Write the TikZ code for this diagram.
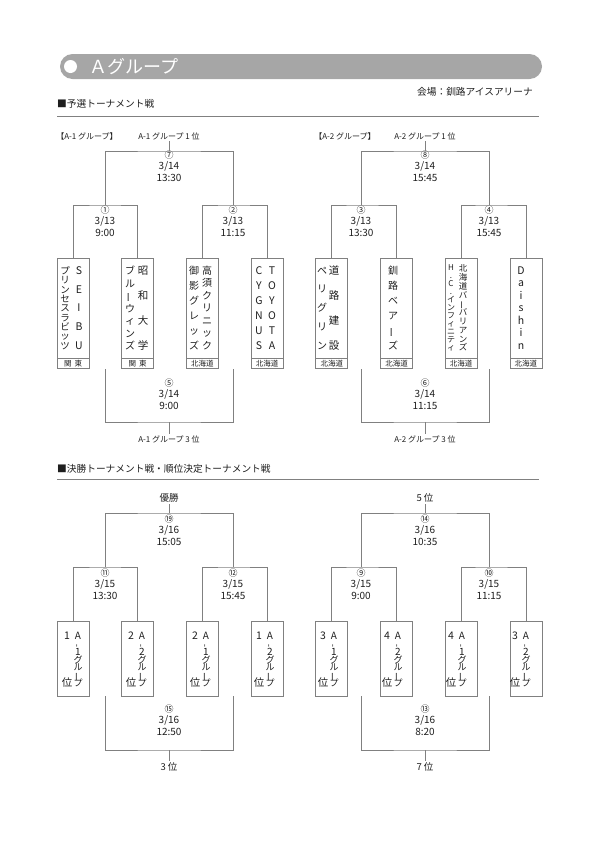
\documentclass[tikz,border=0pt]{standalone}
\usepackage{fontspec}
\setmainfont{Noto Sans CJK JP}
\usetikzlibrary{positioning}
\definecolor{bargray}{RGB}{166,166,166}
\definecolor{linegray}{RGB}{128,128,128}
\definecolor{inkgray}{RGB}{30,30,30}
\newcommand\tbar{\rotatebox[origin=c]{90}{ー}}
\newcommand\tdash{\rotatebox[origin=c]{90}{-}}
\newcommand\seedch[1]{{\fontsize{10}{10}\selectfont #1}}

\begin{document}
\setlength{\lineskiplimit}{-100pt}
\begin{tikzpicture}[x=1pt, y=-1pt, text=inkgray,
  wire/.style={draw=linegray, line width=0.7pt},
  headbar/.style={fill=bargray, rounded corners=12.5pt, minimum width=482pt, minimum height=25pt, inner sep=0pt},
  headdot/.style={circle, fill=white, minimum size=13pt, inner sep=0pt},
  headtitle/.style={text=white, anchor=west, inner sep=0pt, font=\fontsize{18}{18}\selectfont},
  sechead/.style={anchor=west, inner sep=0pt, font=\fontsize{9.7}{10}\selectfont},
  teambox/.style={draw=linegray, line width=0.7pt, minimum width=32pt, minimum height=100pt, inner sep=0pt},
  areabox/.style={draw=linegray, line width=0.7pt, minimum width=32pt, minimum height=10pt, inner sep=0pt, font=\fontsize{7.5}{7.5}\selectfont},
  seedbox/.style={draw=linegray, line width=0.7pt, minimum width=32pt, minimum height=75pt, inner sep=0pt},
  match/.style={align=center, inner sep=0pt, font=\fontsize{10}{11.5}\selectfont},
  tag/.style={inner sep=1.5pt, font=\fontsize{8}{9}\selectfont},
  ranktag/.style={inner sep=1.5pt, font=\fontsize{9.5}{10}\selectfont},
  tate/.style n args={2}{align=center, inner sep=0pt, font=\fontsize{#1}{#2}\selectfont}
]
\useasboundingbox (0,0) rectangle (595,841);

\node[headbar] (bar) at (301,66.5) {};
\node[headdot] (dot) at (70.5,66.5) {};
\node[headtitle] (title) at (89,66.5) {Ａグループ};
\node[sechead, anchor=east] (venue) at (533,92) {会場：釧路アイスアリーナ};
\node[sechead] (prelim) at (57,104) {■予選トーナメント戦};
\node[sechead] (final) at (57,469) {■決勝トーナメント戦・順位決定トーナメント戦};
\coordinate (r1a) at (57,116);
\coordinate (r1b) at (539,116);
\coordinate (r2a) at (57,479);
\coordinate (r2b) at (539,479);
\draw[wire] (r1a) -- (r1b);
\draw[wire] (r2a) -- (r2b);

\node[teambox] (t1) at (73,308) {};
\node[teambox, right=32pt of t1] (t2) {};
\node[teambox, right=32pt of t2] (t3) {};
\node[teambox, right=32pt of t3] (t4) {};
\node[teambox, right=32pt of t4] (t5) {};
\node[teambox, right=32pt of t5] (t6) {};
\node[teambox, right=32pt of t6] (t7) {};
\node[teambox, right=32pt of t7] (t8) {};
\node[areabox, below=0pt of t1] (a1) {関\hspace{3pt}東};
\node[areabox, below=0pt of t2] (a2) {関\hspace{3pt}東};
\node[areabox, below=0pt of t3] (a3) {北海道};
\node[areabox, below=0pt of t4] (a4) {北海道};
\node[areabox, below=0pt of t5] (a5) {北海道};
\node[areabox, below=0pt of t6] (a6) {北海道};
\node[areabox, below=0pt of t7] (a7) {北海道};
\node[areabox, below=0pt of t8] (a8) {北海道};

\node[tate={9.5}{9.375}] (t1l) at (65,308) {プ\\リ\\ン\\セ\\ス\\ラ\\ビ\\ッ\\ツ};
\node[tate={10.5}{18.75}] (t1r) at (79,308) {S\\E\\I\\B\\U};
\node[tate={10}{12.5}] (t2l) at (130,308) {ブ\\ル\\\tbar\\ウ\\ィ\\ン\\ズ};
\node[tate={10.5}{25}] (t2r) at (143,308) {昭\\和\\大\\学};
\node[tate={10}{15}] (t3l) at (194,308) {御\\影\\グ\\レ\\ッ\\ズ};
\node[tate={10}{12.5}] (t3r) at (207,308) {高\\須\\ク\\リ\\ニ\\ッ\\ク};
\node[tate={10.5}{15}] (t4l) at (259,308) {C\\Y\\G\\N\\U\\S};
\node[tate={10.5}{15}] (t4r) at (272,308) {T\\O\\Y\\O\\T\\A};
\node[tate={10}{18.75}] (t5l) at (322,308) {ペ\\リ\\グ\\リ\\ン};
\node[tate={10.5}{25}] (t5r) at (334,308) {道\\路\\建\\設};
\node[tate={10}{15}] (t6c) at (393,308) {釧\\路\\ベ\\ア\\\tbar\\ズ};
\node[tate={8}{8}] (t7l) at (451,308) {H\\.\\C\\.\\イ\\ン\\フ\\ィ\\ニ\\テ\\ィ};
\node[tate={8.5}{8.8}] (t7r) at (463,308) {北\\海\\道\\バ\\\tbar\\バ\\リ\\ア\\ン\\ズ};
\node[tate={10.5}{12.5}] (t8c) at (521,308) {D\\a\\i\\s\\h\\i\\n};

\coordinate (j1) at (105,205);
\coordinate (j2) at (233,205);
\coordinate (j7) at (169,151);
\coordinate (j5) at (169,422);
\coordinate (j3) at (361,205);
\coordinate (j4) at (489,205);
\coordinate (j8) at (425,151);
\coordinate (j6) at (425,422);

\node[tag] (g1) at (87,136) {【A-1 グループ】};
\node[tag] (g2) at (345,136) {【A-2 グループ】};
\node[tag] (w7) at (169,136) {A-1 グループ 1 位};
\node[tag] (w8) at (425,136) {A-2 グループ 1 位};
\node[tag] (w5) at (169,439) {A-1 グループ 3 位};
\node[tag] (w6) at (425,439) {A-2 グループ 3 位};

\node[match] (m7) at (169,166) {{\fontsize{9}{11.5}\selectfont ⑦}\\3/14\\13:30};
\node[match] (m1) at (105,221) {{\fontsize{9}{11.5}\selectfont ①}\\3/13\\9:00};
\node[match] (m2) at (233,221) {{\fontsize{9}{11.5}\selectfont ②}\\3/13\\11:15};
\node[match] (m5) at (169,394) {{\fontsize{9}{11.5}\selectfont ⑤}\\3/14\\9:00};
\node[match] (m8) at (425,166) {{\fontsize{9}{11.5}\selectfont ⑧}\\3/14\\15:45};
\node[match] (m3) at (361,221) {{\fontsize{9}{11.5}\selectfont ③}\\3/13\\13:30};
\node[match] (m4) at (489,221) {{\fontsize{9}{11.5}\selectfont ④}\\3/13\\15:45};
\node[match] (m6) at (425,394) {{\fontsize{9}{11.5}\selectfont ⑥}\\3/14\\11:15};

\draw[wire] (t1.north) |- (j1) -| (t2.north);
\draw[wire] (t3.north) |- (j2) -| (t4.north);
\draw[wire] (j1) |- (j7) -| (j2);
\draw[wire] (j7) -- (w7);
\draw[wire] (a1.south -| j1) |- (j5) -| (a3.south -| j2);
\draw[wire] (j5) -- (w5);
\draw[wire] (t5.north) |- (j3) -| (t6.north);
\draw[wire] (t7.north) |- (j4) -| (t8.north);
\draw[wire] (j3) |- (j8) -| (j4);
\draw[wire] (j8) -- (w8);
\draw[wire] (a5.south -| j3) |- (j6) -| (a7.south -| j4);
\draw[wire] (j6) -- (w6);

\node[seedbox] (s1) at (73,658.5) {};
\node[seedbox, right=32pt of s1] (s2) {};
\node[seedbox, right=32pt of s2] (s3) {};
\node[seedbox, right=32pt of s3] (s4) {};
\node[seedbox, right=32pt of s4] (s5) {};
\node[seedbox, right=32pt of s5] (s6) {};
\node[seedbox, right=32pt of s6] (s7) {};
\node[seedbox, right=32pt of s7] (s8) {};

\node[tate={10.5}{47}] (s1l) at (67,659.5) {1\\位};
\node[tate={9}{7.83}] (s1r) at (78,659.5) {\seedch{A}\\\tdash\\\seedch{1}\\グ\\ル\\\tbar\\プ};
\node[tate={10.5}{47}] (s2l) at (131,659.5) {2\\位};
\node[tate={9}{7.83}] (s2r) at (142,659.5) {\seedch{A}\\\tdash\\\seedch{2}\\グ\\ル\\\tbar\\プ};
\node[tate={10.5}{47}] (s3l) at (195,659.5) {2\\位};
\node[tate={9}{7.83}] (s3r) at (206,659.5) {\seedch{A}\\\tdash\\\seedch{1}\\グ\\ル\\\tbar\\プ};
\node[tate={10.5}{47}] (s4l) at (259,659.5) {1\\位};
\node[tate={9}{7.83}] (s4r) at (270,659.5) {\seedch{A}\\\tdash\\\seedch{2}\\グ\\ル\\\tbar\\プ};
\node[tate={10.5}{47}] (s5l) at (323,659.5) {3\\位};
\node[tate={9}{7.83}] (s5r) at (334,659.5) {\seedch{A}\\\tdash\\\seedch{1}\\グ\\ル\\\tbar\\プ};
\node[tate={10.5}{47}] (s6l) at (387,659.5) {4\\位};
\node[tate={9}{7.83}] (s6r) at (398,659.5) {\seedch{A}\\\tdash\\\seedch{2}\\グ\\ル\\\tbar\\プ};
\node[tate={10.5}{47}] (s7l) at (451,659.5) {4\\位};
\node[tate={9}{7.83}] (s7r) at (462,659.5) {\seedch{A}\\\tdash\\\seedch{1}\\グ\\ル\\\tbar\\プ};
\node[tate={10.5}{47}] (s8l) at (515,659.5) {3\\位};
\node[tate={9}{7.83}] (s8r) at (526,659.5) {\seedch{A}\\\tdash\\\seedch{2}\\グ\\ル\\\tbar\\プ};

\coordinate (j11) at (105,567);
\coordinate (j12) at (233,567);
\coordinate (j19) at (169,513);
\coordinate (j15) at (169,750);
\coordinate (j9) at (361,567);
\coordinate (j10) at (489,567);
\coordinate (j14) at (425,513);
\coordinate (j13) at (425,750);

\node[ranktag] (w19) at (169,498) {優勝};
\node[ranktag] (w14) at (425,498) {5 位};
\node[ranktag] (w15) at (169,767) {3 位};
\node[ranktag] (w13) at (425,767) {7 位};

\node[match] (m19) at (169,530) {{\fontsize{9}{11.5}\selectfont ⑲}\\3/16\\15:05};
\node[match] (m11) at (105,584) {{\fontsize{9}{11.5}\selectfont ⑪}\\3/15\\13:30};
\node[match] (m12) at (233,584) {{\fontsize{9}{11.5}\selectfont ⑫}\\3/15\\15:45};
\node[match] (m15) at (169,720) {{\fontsize{9}{11.5}\selectfont ⑮}\\3/16\\12:50};
\node[match] (m14) at (425,530) {{\fontsize{9}{11.5}\selectfont ⑭}\\3/16\\10:35};
\node[match] (m9) at (361,584) {{\fontsize{9}{11.5}\selectfont ⑨}\\3/15\\9:00};
\node[match] (m10) at (489,584) {{\fontsize{9}{11.5}\selectfont ⑩}\\3/15\\11:15};
\node[match] (m13) at (425,720) {{\fontsize{9}{11.5}\selectfont ⑬}\\3/16\\8:20};

\draw[wire] (s1.north) |- (j11) -| (s2.north);
\draw[wire] (s3.north) |- (j12) -| (s4.north);
\draw[wire] (j11) |- (j19) -| (j12);
\draw[wire] (j19) -- (w19);
\draw[wire] (s1.south -| j11) |- (j15) -| (s3.south -| j12);
\draw[wire] (j15) -- (w15);
\draw[wire] (s5.north) |- (j9) -| (s6.north);
\draw[wire] (s7.north) |- (j10) -| (s8.north);
\draw[wire] (j9) |- (j14) -| (j10);
\draw[wire] (j14) -- (w14);
\draw[wire] (s5.south -| j9) |- (j13) -| (s7.south -| j10);
\draw[wire] (j13) -- (w13);
\end{tikzpicture}
\end{document}
